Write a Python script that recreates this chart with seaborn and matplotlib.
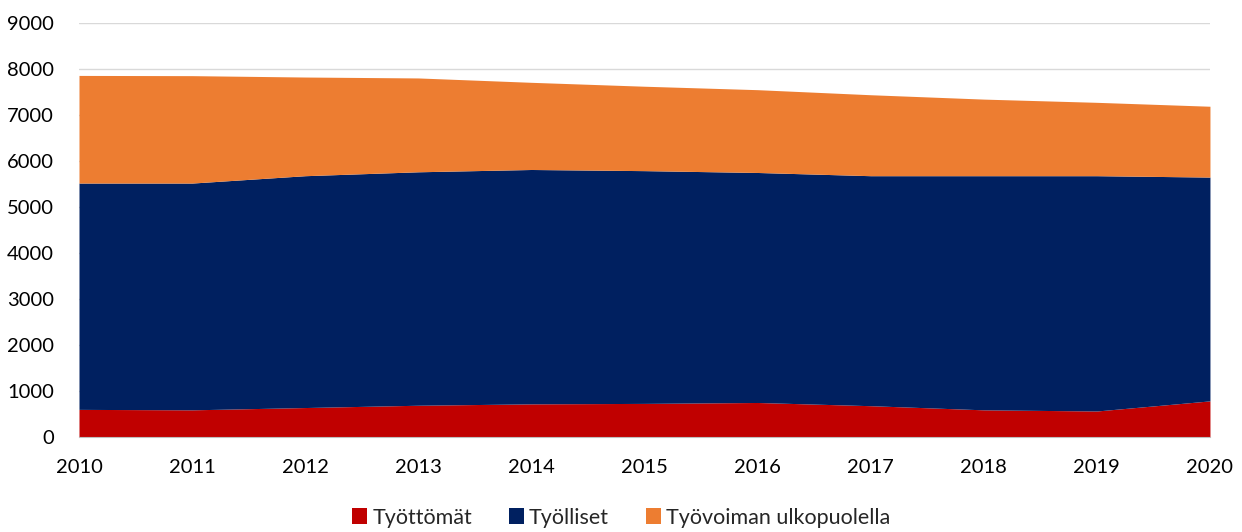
import numpy as np
import pandas as pd
import matplotlib
matplotlib.use("Agg")
import matplotlib.pyplot as plt
import seaborn as sns

years = [2010, 2011, 2012, 2013, 2014, 2015, 2016, 2017, 2018, 2019, 2020]
tyottomat = [600, 590, 640, 690, 720, 730, 750, 680, 590, 565, 785]
tyolliset = [4920, 4930, 5040, 5075, 5095, 5060, 5000, 5000, 5090, 5115, 4865]
ulkopuolella = [2340, 2335, 2145, 2040, 1895, 1835, 1800, 1760, 1665, 1595, 1540]

labels = ["Työttömät", "Työlliset", "Työvoiman ulkopuolella"]
colors = ["#C00000", "#002060", "#ED7D31"]

df = pd.DataFrame({"year": years, labels[0]: tyottomat,
                   labels[1]: tyolliset, labels[2]: ulkopuolella})

sns.set_style("white")
plt.rcParams["font.family"] = ["Lato", "DejaVu Sans"]

fig = plt.figure(figsize=(12.42, 5.32), dpi=100)
ax = fig.add_axes([0.0636, 0.1786, 0.9106, 0.7782])

ax.stackplot(df["year"], df[labels[0]], df[labels[1]], df[labels[2]],
             colors=colors, labels=labels, linewidth=0, zorder=2)

ax.set_xlim(2010, 2020)
ax.set_ylim(0, 9000)
ax.set_xticks(years)
ax.set_yticks(range(0, 9001, 1000))
ax.yaxis.grid(True, color="#D9D9D9", linewidth=1, zorder=0)
ax.set_axisbelow(True)
sns.despine(ax=ax, left=True, top=True, right=True)
ax.spines["bottom"].set_color("#BFBFBF")
ax.tick_params(axis="x", which="both", length=6, color="#BFBFBF",
               labelsize=14.5, pad=10, colors="#BFBFBF", labelcolor="black")
ax.tick_params(axis="y", length=0, labelsize=14.5, pad=18, labelcolor="black")

handles, lbls = ax.get_legend_handles_labels()
fig.legend(handles, lbls, loc="lower center", bbox_to_anchor=(0.5, -0.028),
           ncol=3, frameon=False, fontsize=15.5, handlelength=0.7,
           handleheight=0.7, handletextpad=0.25, columnspacing=1.7)

fig.savefig("out.png", dpi=100)
